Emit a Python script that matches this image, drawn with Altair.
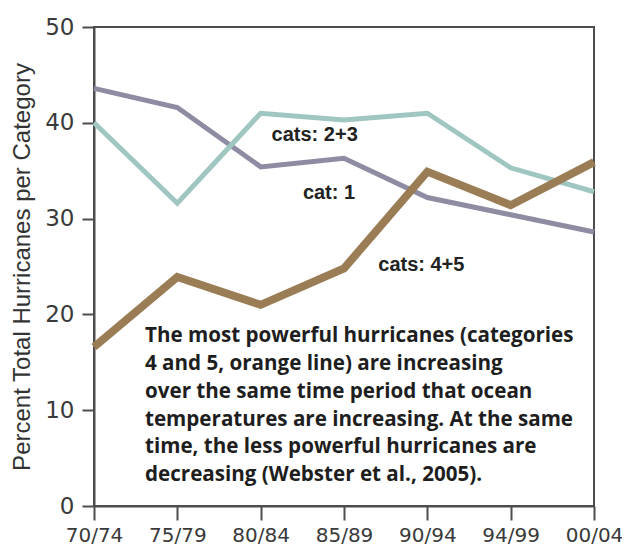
import altair as alt
import pandas as pd

periods = ["70/74", "75/79", "80/84", "85/89", "90/94", "94/99", "00/04"]
cat1 = [43.6, 41.6, 35.4, 36.3, 32.2, 30.4, 28.6]
cats23 = [40.0, 31.6, 41.0, 40.3, 41.0, 35.3, 32.8]
cats45 = [16.6, 23.9, 21.0, 24.8, 34.9, 31.4, 35.9]

series_names = ["cat: 1", "cats: 2+3", "cats: 4+5"]
series_colors = ["#8d8ca2", "#9fc6c1", "#9a7c55"]
series_widths = [5, 5, 8]

label_text = ["cats: 2+3", "cat: 1", "cats: 4+5"]
label_period = ["80/84", "85/89", "90/94"]
label_value = [38.7, 32.7, 25.2]
label_dx = [54, -15, -6]

note_lines = [
    "The most powerful hurricanes (categories",
    "4 and 5, orange line) are increasing",
    "over the same time period that ocean",
    "temperatures are increasing. At the same",
    "time, the less powerful hurricanes are",
    "decreasing (Webster et al., 2005).",
]
note_period = "70/74"
note_value = 17.1

rows = []
for name, vals in zip(series_names, [cat1, cats23, cats45]):
    for p, v in zip(periods, vals):
        rows.append({"period": p, "value": v, "series": name})
df = pd.DataFrame(rows)

x_enc = alt.X(
    "period:N",
    sort=periods,
    scale=alt.Scale(type="point", padding=0),
    axis=alt.Axis(
        title=None,
        labelAngle=0,
        labelFont="DejaVu Sans",
        labelFontSize=20,
        labelColor="#3a3a3a",
        labelPadding=5,
        tickSize=14,
        tickColor="#4d4d4d",
        tickWidth=2,
        domainColor="#4d4d4d",
        domainWidth=2,
        grid=False,
    ),
)
y_enc = alt.Y(
    "value:Q",
    scale=alt.Scale(domain=[0, 50], nice=False),
    axis=alt.Axis(
        title="Percent Total Hurricanes per Category",
        titleFont="Liberation Sans",
        titleFontSize=24,
        titleFontWeight="normal",
        titleColor="#333333",
        titlePadding=10,
        values=[0, 10, 20, 30, 40, 50],
        labelFont="DejaVu Sans",
        labelFontSize=23,
        labelColor="#3a3a3a",
        labelPadding=8,
        tickSize=12,
        tickColor="#4d4d4d",
        tickWidth=2,
        domainColor="#4d4d4d",
        domainWidth=2,
        grid=False,
    ),
)

layers = []
for name, color, w in zip(series_names, series_colors, series_widths):
    layers.append(
        alt.Chart(df)
        .transform_filter(alt.datum.series == name)
        .mark_line(color=color, strokeWidth=w, strokeJoin="miter")
        .encode(x=x_enc, y=y_enc)
    )

for t, p, v, dx in zip(label_text, label_period, label_value, label_dx):
    layers.append(
        alt.Chart(pd.DataFrame({"period": [p], "value": [v], "t": [t]}))
        .mark_text(
            font="Liberation Sans",
            fontSize=20,
            fontWeight="bold",
            color="#222222",
            align="center",
            baseline="middle",
            dx=dx,
        )
        .encode(x=alt.X("period:N", sort=periods), y="value:Q", text="t:N")
    )

note_df = pd.DataFrame({"period": [note_period], "value": [note_value], "t": [note_lines]})
layers.append(
    alt.Chart(note_df)
    .mark_text(
        font="Open Sans",
        fontSize=20.6,
        fontWeight="bold",
        color="#1e1e1e",
        align="left",
        baseline="alphabetic",
        lineHeight=27.8,
        dx=51,
    )
    .encode(x=alt.X("period:N", sort=periods), y="value:Q", text="t")
)

chart = (
    alt.layer(*layers)
    .properties(
        width=500,
        height=479,
        autosize=alt.AutoSizeParams(type="none"),
        padding={"left": 86, "top": 19, "right": 28, "bottom": 39},
        background="white",
    )
    .configure_view(stroke="#4d4d4d", strokeWidth=2)
)

chart.save("out.html", embed_options={"renderer": "svg", "actions": False})
